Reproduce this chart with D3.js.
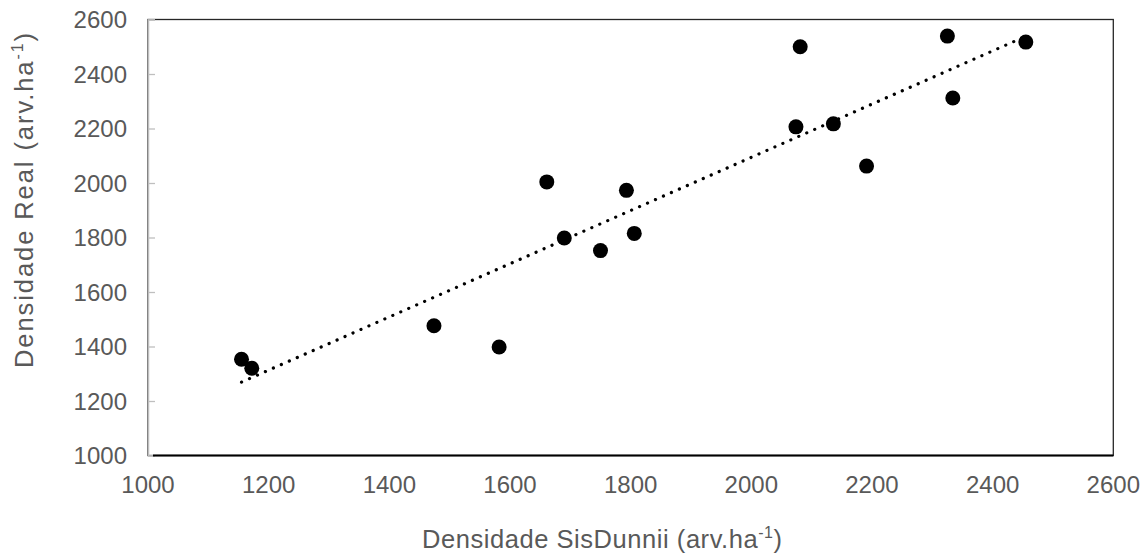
<!DOCTYPE html>
<html lang="pt">
<head>
<meta charset="UTF-8">
<title>Densidade SisDunnii x Densidade Real</title>
<script src="https://d3js.org/d3.v7.min.js"></script>
<style>
    body { margin: 0; background: #fff; font-family: "Liberation Sans", Arial, sans-serif; }
    .tick-label { font-size: 24px; fill: #595959; }
    .axis-title { font-size: 25.5px; fill: #595959; }
</style>
</head>
<body>
<div id="chart"></div>
<script>
// SisDunnii estimate (x) vs measured density (y), arv.ha-1
const sisDunnii = [1155, 1172, 1474, 1582, 1661, 1690, 1750, 1793, 1806, 2074, 2081, 2136, 2191, 2325, 2334, 2455];
const densReal  = [1353, 1320, 1476, 1398, 2004, 1798, 1752, 1973, 1815, 2206, 2500, 2217, 2062, 2539, 2312, 2517];
const xTicks = [1000, 1200, 1400, 1600, 1800, 2000, 2200, 2400, 2600];
const yTicks = [1000, 1200, 1400, 1600, 1800, 2000, 2200, 2400, 2600];

const W = 1148, H = 556;
const margin = {top: 19.5, right: 34.7, bottom: 100.5, left: 148};
const width = W - margin.left - margin.right;
const height = H - margin.top - margin.bottom;

const svg = d3.select("#chart").append("svg")
    .attr("width", W)
    .attr("height", H);

const g = svg.append("g")
    .attr("transform", `translate(${margin.left},${margin.top})`);

const x = d3.scaleLinear().domain([1000, 2600]).range([0, width]);
const y = d3.scaleLinear().domain([1000, 2600]).range([height, 0]);

// plot area frame
g.append("rect")
    .attr("x", 0).attr("y", 0)
    .attr("width", width).attr("height", height)
    .attr("fill", "none")
    .attr("stroke", "#262626")
    .attr("stroke-width", 1.3);

// left axis (gray, inside ticks)
const yAxis = g.append("g")
    .call(d3.axisRight(y).tickValues(yTicks).tickSize(7).tickFormat(""));
yAxis.select(".domain").attr("stroke", "#bfbfbf").attr("stroke-width", 1.5);
yAxis.selectAll(".tick line").attr("stroke", "#bfbfbf").attr("stroke-width", 1.3);

// bottom axis line
g.append("line")
    .attr("x1", 5).attr("x2", width)
    .attr("y1", height).attr("y2", height)
    .attr("stroke", "#000")
    .attr("stroke-width", 2);

// tick labels
g.selectAll(".ylab").data(yTicks).enter().append("text")
    .attr("class", "tick-label")
    .attr("x", -21)
    .attr("y", d => y(d))
    .attr("dy", "0.36em")
    .attr("text-anchor", "end")
    .text(d => d);

g.selectAll(".xlab").data(xTicks).enter().append("text")
    .attr("class", "tick-label")
    .attr("x", d => x(d))
    .attr("y", height + 37)
    .attr("text-anchor", "middle")
    .text(d => d);

// linear trendline (least squares)
const n = sisDunnii.length;
const mx = d3.mean(sisDunnii), my = d3.mean(densReal);
let sxy = 0, sxx = 0;
for (let i = 0; i < n; i++) {
    sxy += (sisDunnii[i] - mx) * (densReal[i] - my);
    sxx += (sisDunnii[i] - mx) ** 2;
}
const slope = sxy / sxx, intercept = my - slope * mx;
const xr = d3.extent(sisDunnii);

g.append("line")
    .attr("x1", x(xr[0])).attr("y1", y(intercept + slope * xr[0]))
    .attr("x2", x(xr[1])).attr("y2", y(intercept + slope * xr[1]))
    .attr("stroke", "#000")
    .attr("stroke-width", 3.2)
    .attr("stroke-linecap", "round")
    .attr("stroke-dasharray", "0.1,8.6");

// points
g.selectAll(".dot").data(sisDunnii).enter().append("circle")
    .attr("class", "dot")
    .attr("cx", d => x(d))
    .attr("cy", (d, i) => y(densReal[i]))
    .attr("r", 7.5)
    .attr("fill", "#000");

// axis titles
const xt = svg.append("text")
    .attr("class", "axis-title")
    .attr("x", 602)
    .attr("y", 548)
    .attr("text-anchor", "middle")
    .attr("textLength", 360)
    .attr("lengthAdjust", "spacing");
xt.append("tspan").text("Densidade SisDunnii (arv.ha");
xt.append("tspan").attr("font-size", "16px").attr("dy", "-10").text("-1");
xt.append("tspan").attr("dy", "10").text(")");

const yt = svg.append("text")
    .attr("class", "axis-title")
    .attr("transform", "translate(33,200.5) rotate(-90)")
    .attr("text-anchor", "middle")
    .attr("textLength", 335)
    .attr("lengthAdjust", "spacing");
yt.append("tspan").text("Densidade Real (arv.ha");
yt.append("tspan").attr("font-size", "16px").attr("dy", "-10").text("-1");
yt.append("tspan").attr("dy", "10").text(")");
</script>
</body>
</html>
